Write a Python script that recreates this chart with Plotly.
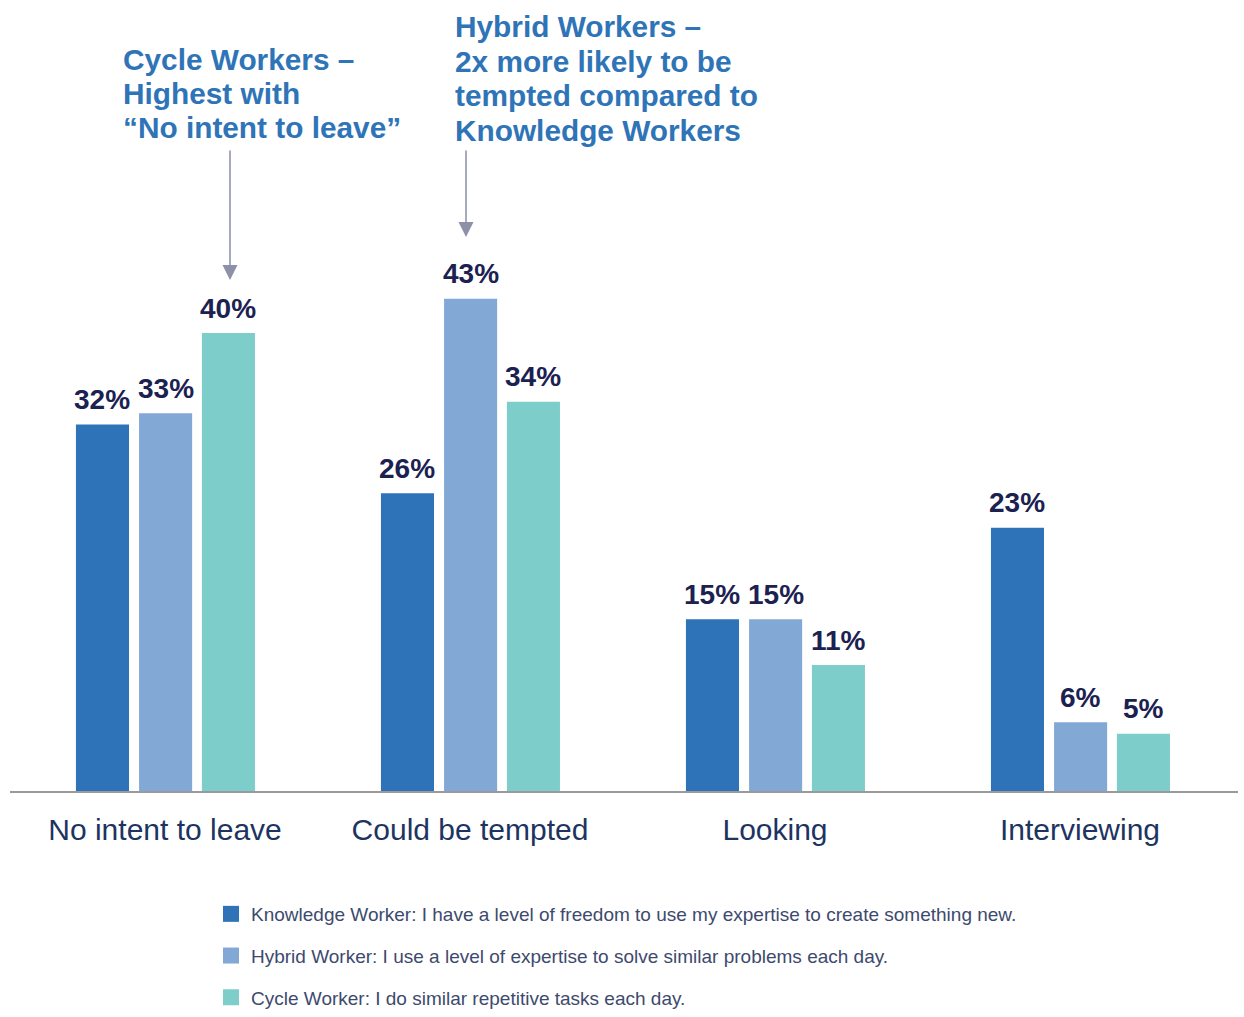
import plotly.graph_objects as go

# ---------------- data ----------------
categories = ["No intent to leave", "Could be tempted", "Looking", "Interviewing"]
knowledge = [32, 26, 15, 23]
hybrid = [33, 43, 15, 6]
cycle = [40, 34, 11, 5]

series_names = [
    "Knowledge Worker: I have a level of freedom to use my expertise to create something new.",
    "Hybrid Worker: I use a level of expertise to solve similar problems each day.",
    "Cycle Worker: I do similar repetitive tasks each day.",
]
series_values = [knowledge, hybrid, cycle]
series_colors = ["#2E73B8", "#82A9D5", "#7DCDCB"]

callout_cycle = ["Cycle Workers –", "Highest with", "“No intent to leave”"]
callout_hybrid = ["Hybrid Workers –", "2x more likely to be", "tempted compared to", "Knowledge Workers"]

# ---------------- layout constants (page pixels) ----------------
W, H = 1244, 1017
ML, MR, MT = 10, 6, 0
BASE_PAGE = 791                   # baseline of the bars
PLOT_W = W - ML - MR
PLOT_H = BASE_PAGE - MT
MB = H - MT - PLOT_H
PX_PER_CAT = 305.0
CAT0_PAGE = 165.0
PX_PER_PCT = 11.45
X_RANGE = [(ML - CAT0_PAGE) / PX_PER_CAT, (ML + PLOT_W - CAT0_PAGE) / PX_PER_CAT]
Y_RANGE = [0, PLOT_H / PX_PER_PCT]
BAR_W = 0.174
OFFSETS = [-0.292, -0.085, 0.121]

FONT = "Liberation Sans, Arial, sans-serif"
NAVY = "#1B2150"
CAT_COLOR = "#1D3461"
BLUE_TXT = "#2E74B7"
ARROW = "#8C90A8"


def px_x(px):
    """page x pixel -> category axis units"""
    return (px - CAT0_PAGE) / PX_PER_CAT


def px_y(py):
    """page y pixel -> value axis units"""
    return (BASE_PAGE - py) / PX_PER_PCT


def paper_x(px):
    return (px - ML) / PLOT_W


def paper_y(py):
    return (BASE_PAGE - py) / PLOT_H


fig = go.Figure()
idx = list(range(len(categories)))

for name, vals, col, off in zip(series_names, series_values, series_colors, OFFSETS):
    fig.add_trace(go.Bar(
        x=idx, y=vals, name=name, marker=dict(color=col, line=dict(width=0)),
        width=BAR_W, offset=off, showlegend=False, hoverinfo="y",
    ))
    # legend entry with a larger square swatch
    fig.add_trace(go.Scatter(
        x=[None], y=[None], mode="markers", name=name, legendgroup=name,
        marker=dict(symbol="square", size=20, color=col),
    ))

annotations = []
# value labels
for vals, off in zip(series_values, OFFSETS):
    for i, v in enumerate(vals):
        annotations.append(dict(
            x=i + off + BAR_W / 2, y=v, xref="x", yref="y",
            text=f"<b>{v}%</b>", showarrow=False, yanchor="middle", yshift=25,
            font=dict(family=FONT, size=28, color=NAVY),
        ))

# callout texts, one annotation per line
for lines, left, first_center, step in [(callout_cycle, 121, 59.3, 34.3),
                                         (callout_hybrid, 453, 26.5, 34.5)]:
    for k, line in enumerate(lines):
        annotations.append(dict(
            x=px_x(left), y=px_y(first_center + k * step), xref="x", yref="y",
            xanchor="left", yanchor="middle", align="left",
            text=f"<b>{line}</b>", showarrow=False,
            font=dict(family=FONT, size=29.8, color=BLUE_TXT),
        ))

# arrows
for tip_x, tip_y, tail_y in [(230, 280, 149), (466, 237, 149)]:
    annotations.append(dict(
        x=px_x(tip_x), y=px_y(tip_y), xref="x", yref="y", text="",
        showarrow=True, ax=0, ay=-(tip_y - tail_y), axref="pixel", ayref="pixel",
        arrowhead=2, arrowsize=2, arrowwidth=1.5, arrowcolor=ARROW, standoff=0,
    ))

fig.update_layout(
    width=W, height=H,
    margin=dict(l=ML, r=MR, t=MT, b=MB, pad=0),
    paper_bgcolor="white", plot_bgcolor="white",
    barmode="overlay",
    font=dict(family=FONT),
    annotations=annotations,
    showlegend=True,
    legend=dict(
        orientation="v", x=paper_x(211), xanchor="left",
        y=paper_y(H), yanchor="bottom",
        font=dict(family=FONT, size=19, color="#3D4A6E"),
        tracegroupgap=14, bgcolor="rgba(0,0,0,0)", itemclick=False,
    ),
)
fig.update_xaxes(
    range=X_RANGE, tickmode="array", tickvals=idx, ticktext=categories,
    showline=True, linecolor="#9A9A9A", linewidth=2, showgrid=False, zeroline=False,
    ticks="", tickfont=dict(family=FONT, size=30, color=CAT_COLOR),
    ticklabelstandoff=11, fixedrange=True,
)
fig.update_yaxes(range=Y_RANGE, visible=False, showgrid=False, zeroline=False, fixedrange=True)

# page styling: remove the default 8px body margin so the figure fills the window
fig.write_html("out.html", config={"displayModeBar": False},
               post_script="document.body.style.margin='0';")
